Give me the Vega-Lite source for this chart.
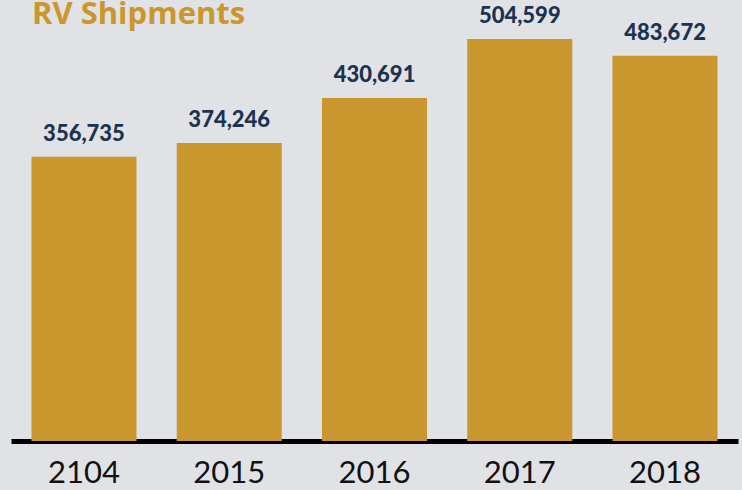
{
  "$schema": "https://vega.github.io/schema/vega-lite/v6.json",
  "autosize": "none",
  "width": 727,
  "height": 406,
  "padding": {"left": 11, "top": 35, "right": 4, "bottom": 49},
  "background": "#e1e2e6",
  "title": {
    "text": "RV Shipments",
    "anchor": "start",
    "frame": "group",
    "baseline": "alphabetic",
    "dx": 21,
    "offset": -50,
    "font": "Open Sans",
    "fontSize": 31,
    "fontWeight": "bold",
    "color": "#c9972d"
  },
  "config": {"view": {"stroke": null}},
  "data": {
    "values": [
      {"year": "2104", "value": 356735, "label": "356,735"},
      {"year": "2015", "value": 374246, "label": "374,246"},
      {"year": "2016", "value": 430691, "label": "430,691"},
      {"year": "2017", "value": 504599, "label": "504,599"},
      {"year": "2018", "value": 483672, "label": "483,672"}
    ]
  },
  "encoding": {
    "x": {
      "field": "year",
      "type": "nominal",
      "sort": null,
      "scale": {"paddingInner": 0.277, "paddingOuter": 0.141},
      "axis": {
        "title": null,
        "labelAngle": 0,
        "labelFont": "Lato",
        "labelFontSize": 31,
        "labelFontWeight": 400,
        "labelColor": "#111111",
        "labelPadding": 17,
        "ticks": false,
        "domainColor": "#000000",
        "domainWidth": 5
      }
    },
    "y": {
      "field": "value",
      "type": "quantitative",
      "scale": {"domain": [0, 509700], "nice": false},
      "axis": null
    }
  },
  "layer": [
    {"mark": {"type": "bar", "color": "#c9972d"}},
    {
      "mark": {
        "type": "text",
        "baseline": "alphabetic",
        "dy": -16,
        "font": "Lato",
        "fontSize": 22,
        "fontWeight": 900,
        "color": "#1b3350"
      },
      "encoding": {"text": {"field": "label"}}
    }
  ]
}
